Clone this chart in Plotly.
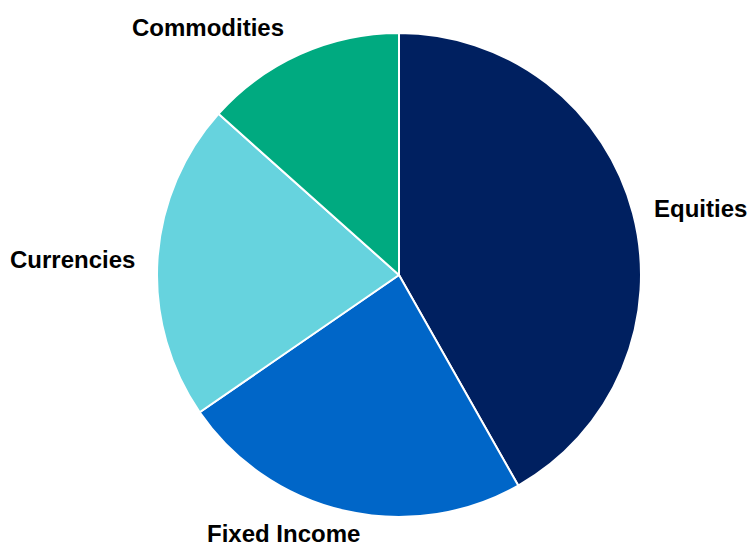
import plotly.graph_objects as go

labels = ["Equities", "Fixed Income", "Currencies", "Commodities"]
values = [41.8, 23.6, 21.2, 13.4]
colors = ["#002060", "#0066C8", "#66D3DE", "#00AA80"]

W, H = 747, 549

def fx(px):
    return px / W

def fy(py):
    return 1 - py / H

fig = go.Figure(go.Pie(
    labels=labels, values=values, sort=False, direction="clockwise", rotation=0,
    marker=dict(colors=colors, line=dict(color="white", width=2)),
    textinfo="none", hoverinfo="label+percent",
    domain=dict(x=[fx(157), fx(641)], y=[fy(517), fy(33)]),
    showlegend=False,
))

# (x, y, yanchor) in window pixels
label_pos = {"Equities": (700, 208, "middle"), "Fixed Income": (283, 549, "bottom"),
             "Currencies": (72, 260, "middle"), "Commodities": (208, 27, "middle")}
for name in labels:
    px, py, ya = label_pos[name]
    fig.add_annotation(x=fx(px), y=fy(py), xref="paper", yref="paper",
                       text="<b>" + name + "</b>", showarrow=False,
                       font=dict(family="Liberation Sans, Arial", size=24, color="#000000"),
                       xanchor="center", yanchor=ya)

fig.update_layout(width=W, height=H, margin=dict(l=0, r=0, t=0, b=0),
                  paper_bgcolor="white", plot_bgcolor="white")
fig.write_html("out.html", config={"displayModeBar": False},
               post_script="document.body.style.margin='0';document.body.style.overflow='hidden';")
